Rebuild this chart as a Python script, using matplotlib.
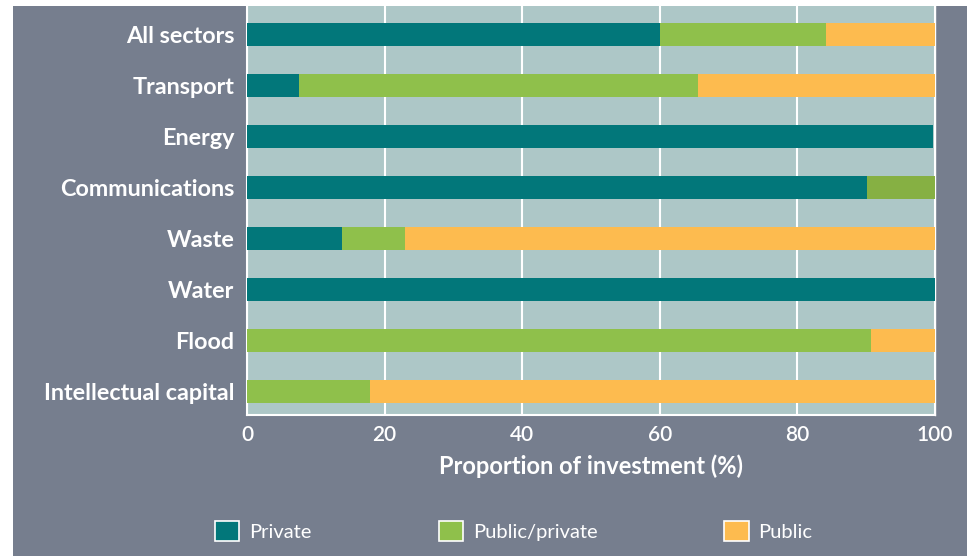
import matplotlib.pyplot as plt
from matplotlib.patches import Patch, Rectangle

# Share of investment by funding source, per sector (%)
sectors = ['All sectors', 'Transport', 'Energy', 'Communications',
           'Waste', 'Water', 'Flood', 'Intellectual capital']
private = [60, 7.6, 99.7, 90.1, 13.8, 100, 0, 0]
public_private = [24.2, 57.9, 0, 9.9, 9.2, 0, 90.7, 17.9]
public = [15.8, 34.5, 0, 0, 77.0, 0, 9.3, 82.1]

teal = '#02777a'
green = '#8fc04b'
green_dark = '#86b043'  # communications segment is printed a shade darker
orange = '#fdbb4f'
panel = '#767e8e'
plot_bg = '#adc7c7'

plt.rcParams['font.family'] = ['Lato', 'DejaVu Sans']

fig = plt.figure(figsize=(9.67, 5.56), dpi=100)
fig.patch.set_facecolor('white')
fig.patches.append(Rectangle((13 / 967, 0), 1, 550 / 556, transform=fig.transFigure,
                             facecolor=panel, edgecolor='none', zorder=-10))

ax = fig.add_axes([247 / 967, 1 - 415 / 556, 688 / 967, 409 / 556])
ax.set_facecolor(plot_bg)

y = list(range(len(sectors)))
h = 0.45
left2 = [a for a in private]
left3 = [a + b for a, b in zip(private, public_private)]
green_cols = [green_dark if s == 'Communications' else green for s in sectors]
ax.barh(y, private, height=h, color=teal, zorder=3)
ax.barh(y, public_private, left=left2, height=h, color=green_cols, zorder=3)
ax.barh(y, public, left=left3, height=h, color=orange, zorder=3)

ax.set_xlim(0, 100)
ax.set_ylim(7.47, -0.55)
ax.set_xticks([0, 20, 40, 60, 80, 100])
ax.set_yticks(y)
ax.set_yticklabels(sectors, fontsize=16.8, fontweight='bold', color='white')
ax.tick_params(axis='x', labelsize=15, colors='white', length=0, pad=7)
ax.tick_params(axis='y', length=0, pad=9)
for lbl in ax.get_xticklabels():
    lbl.set_fontweight('semibold')
ax.xaxis.grid(True, color='white', linewidth=1.5, zorder=1)
ax.set_axisbelow(True)

for side in ['left', 'bottom', 'right']:
    ax.spines[side].set_color('white')
    ax.spines[side].set_linewidth(1.5)
ax.spines['right'].set_linewidth(1.0)
ax.spines['top'].set_visible(False)

ax.set_xlabel('Proportion of investment (%)', fontsize=17, fontweight='bold',
              color='white', labelpad=7)

handles = [Patch(facecolor=teal, edgecolor='white', linewidth=1.2),
           Patch(facecolor=green, edgecolor='white', linewidth=1.2),
           Patch(facecolor=orange, edgecolor='white', linewidth=1.2)]
leg = fig.legend(handles, ['Private', 'Public/private', 'Public'], ncol=3,
                 loc='center left', bbox_to_anchor=(197 / 967, 1 - 531 / 556),
                 frameon=False, fontsize=14.5, handlelength=1.2, handleheight=1.2,
                 handletextpad=0.5, columnspacing=6.3)
for t in leg.get_texts():
    t.set_color('white')

fig.savefig('out.png', dpi=100, facecolor=fig.get_facecolor())
